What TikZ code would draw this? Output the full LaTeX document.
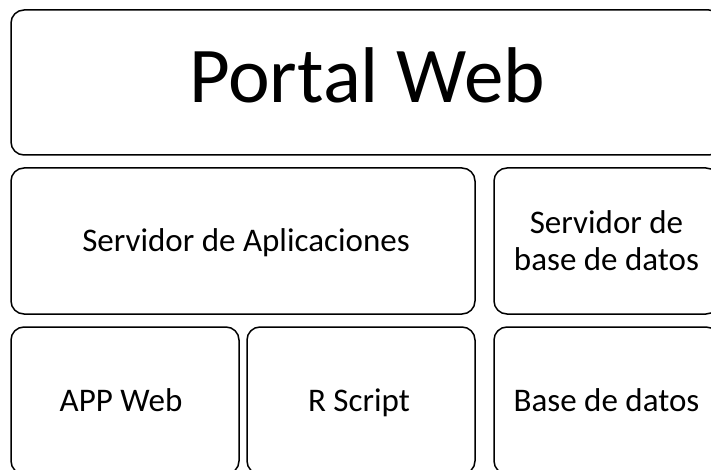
\documentclass[tikz,border=0pt]{standalone}
\usepackage{fontspec}
\setmainfont{Carlito}
\begin{document}
\begin{tikzpicture}[x=1pt,y=-1pt,
  layer/.style={draw=black, line width=1.5pt, rounded corners=13pt, fill=white},
  lbl/.style={font=\fontsize{33}{37}\selectfont, align=center, inner sep=0pt, anchor=base}]
\useasboundingbox (0,0) rectangle (711,470);
\clip (0,0) rectangle (711,470);
% top layer
\draw[layer] (11,10) rectangle (722,155);
\node[lbl, font=\fontsize{79}{84}\selectfont] (portal) at (367,103) {Portal Web};
% middle layer
\draw[layer] (11,168) rectangle (475,314);
\node[lbl] (appserver) at (246,251) {Servidor de Aplicaciones};
\draw[layer] (494,168) rectangle (719,314);
% base anchor sits on the last line
\node[lbl] (dbserver) at (606.5,270) {Servidor de\\base de datos};
% bottom layer
\draw[layer] (11,327) rectangle (239,474);
\node[lbl] (appweb) at (121,411) {APP Web};
\draw[layer] (247,327) rectangle (475,474);
\node[lbl] (rscript) at (359,411) {R Script};
\draw[layer] (494,327) rectangle (719,474);
\node[lbl] (db) at (606.5,411) {Base de datos};
\end{tikzpicture}
\end{document}
